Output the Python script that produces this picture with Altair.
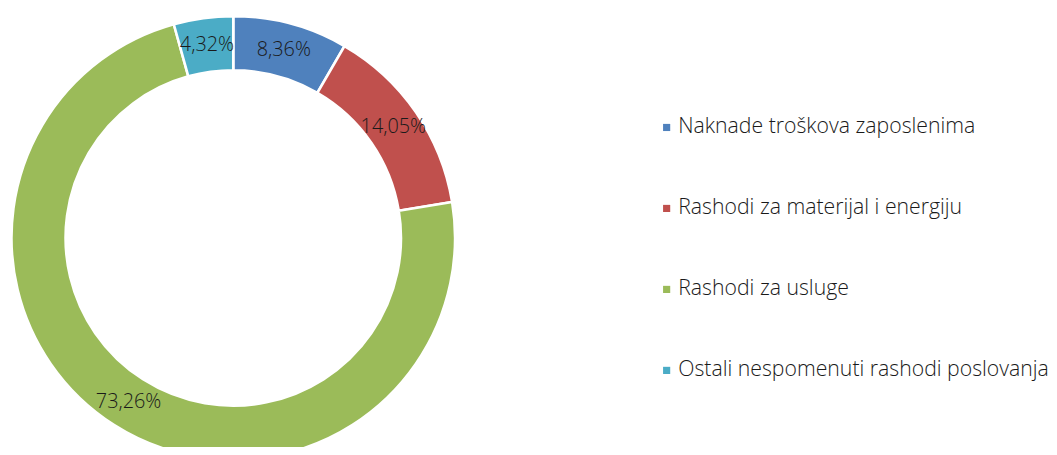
import altair as alt
import pandas as pd

categories = [
    "Naknade troškova zaposlenima",
    "Rashodi za materijal i energiju",
    "Rashodi za usluge",
    "Ostali nespomenuti rashodi poslovanja",
]
values = [8.36, 14.05, 73.26, 4.32]
labels = ["8,36%", "14,05%", "73,26%", "4,32%"]
colors = ["#4F81BD", "#C0504D", "#9BBB59", "#4BACC6"]

df = pd.DataFrame({
    "category": categories,
    "value": values,
    "label": labels,
    "order": list(range(len(categories))),
})

FONT = "Open Sans"

base = alt.Chart(df).encode(
    theta=alt.Theta("value:Q", stack=True),
    order=alt.Order("order:Q"),
)

arc = base.mark_arc(innerRadius=169, outerRadius=223.5, stroke="white", strokeWidth=2.6).encode(
    x=alt.value(227),
    y=alt.value(230),
    color=alt.Color(
        "category:N",
        scale=alt.Scale(domain=categories, range=colors),
        sort=categories,
        legend=alt.Legend(
            title=None,
            orient="none",
            legendX=653,
            legendY=108,
            symbolType="square",
            symbolSize=52,
            symbolStrokeWidth=0,
            labelFont=FONT,
            labelFontWeight=300,
            labelFontSize=21.4,
            labelColor="#1a1a1a",
            labelOffset=1,
            rowPadding=58.6,
            labelLimit=500,
        ),
    ),
)

text = base.mark_text(radius=196, fontSize=20, font=FONT, fontWeight=300, color="#1a1a1a").encode(
    x=alt.value(227),
    y=alt.value(230),
    text="label:N",
)

chart = (arc + text).properties(
    width=1049, height=439, padding=0, autosize=alt.AutoSizeParams(type="none")
).configure_view(stroke=None)

chart.save("out.html", embed_options={"renderer": "svg", "actions": False})
